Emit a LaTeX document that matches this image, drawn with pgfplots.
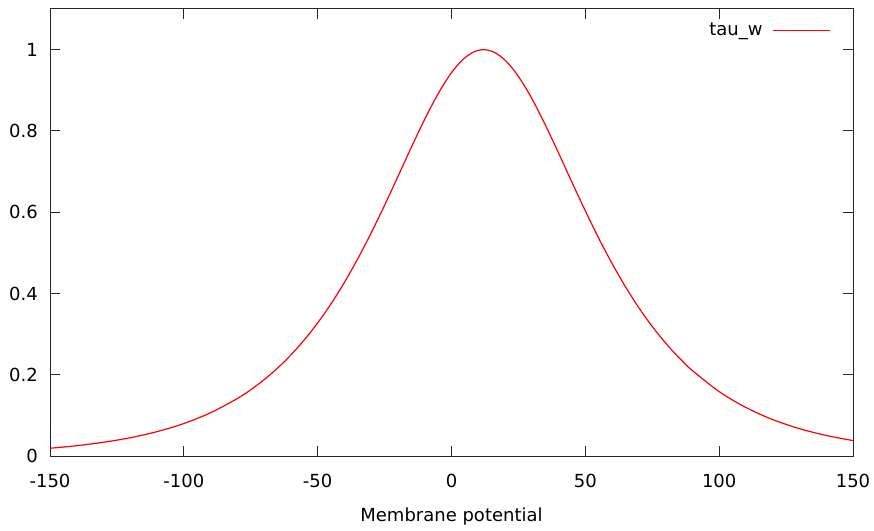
\documentclass[border=0pt]{standalone}
\usepackage{fontspec}
\setmainfont{DejaVu Sans}
\usepackage{pgfplots}
\pgfplotsset{compat=1.18}
\begin{document}
\begin{tikzpicture}
\begin{axis}[
  name=ax,
  scale only axis,
  width=803pt, height=447pt,
  xmin=-150, xmax=150, ymin=0, ymax=1.1,
  xtick={-150,-100,-50,0,50,100,150},
  ytick={0,0.2,0.4,0.6,0.8,1},
  /pgf/number format/assume math mode=true,
  font=\fontsize{18}{21}\selectfont,
  tick align=inside,
  major tick length=10pt,
  axis line style={black!85, line width=1pt},
  every tick/.style={black!85, line width=1pt},
  xticklabel style={inner sep=0pt, anchor=north, yshift=-18pt},
  yticklabel style={inner sep=0pt, anchor=east, xshift=-12pt},
  xlabel={Membrane potential},
  xlabel style={at={(axis description cs:0.5,0)}, anchor=north, inner sep=0pt, yshift=-52pt},
  legend style={draw=none, fill=none, at={(rel axis cs:1,1)}, anchor=north east, xshift=-22pt, yshift=-12pt, inner sep=0pt, column sep=8pt, font=\fontsize{18}{21}\selectfont},
  legend plot pos=right,
  legend image code/.code={\draw[#1] (0pt,0pt) -- (57pt,0pt);},
]
\addplot[red, line width=1.2pt, smooth] coordinates {
(-150,0.0190) (-140,0.0254) (-130,0.0338) (-120,0.0450) (-110,0.0600)
(-100,0.0799) (-90,0.1064) (-80,0.1415) (-75,0.1631) (-70,0.1879) (-65,0.2162)
(-60,0.2487) (-55,0.2856) (-50,0.3275) (-45,0.3746) (-40,0.4273) (-35,0.4856)
(-30,0.5491) (-25,0.6171) (-20,0.6880) (-16,0.7454) (-12,0.8017) (-8,0.8549)
(-4,0.9029) (0,0.9434) (4,0.9741) (8,0.9934) (12,1.0000) (16,0.9934)
(20,0.9741) (24,0.9434) (28,0.9029) (32,0.8549) (36,0.8017) (40,0.7454)
(45,0.6737) (50,0.6032)
(55,0.5360) (60,0.4735) (65,0.4163) (70,0.3647) (75,0.3187) (80,0.2778)
(85,0.2418) (90,0.2102) (100,0.1585) (110,0.1193) (120,0.0896)
(130,0.0673) (140,0.0505) (150,0.0379)
};
\addlegendentry{tau\_w}
\end{axis}
\pgfresetboundingbox
\useasboundingbox (ax.south west) ++(-50pt,-74pt) rectangle ++(874pt,530pt);
\end{tikzpicture}
\end{document}
